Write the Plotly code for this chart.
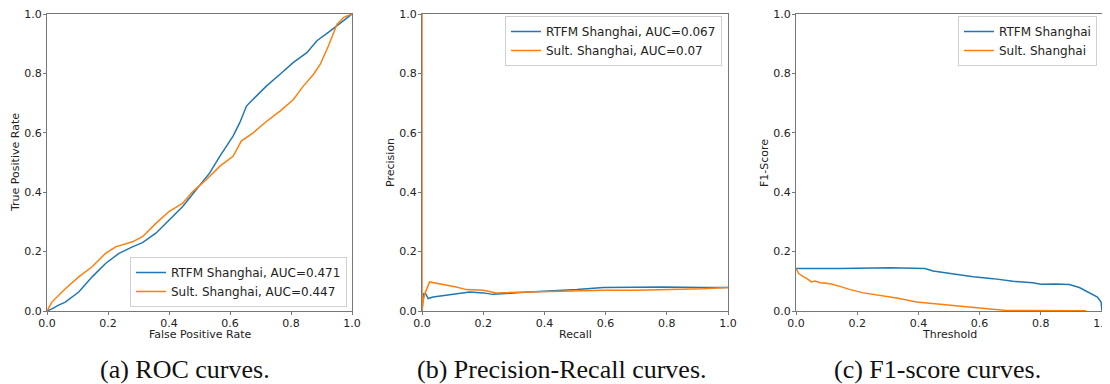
import plotly.graph_objects as go

BLUE = "#1f77b4"
ORANGE = "#ff7f0e"

# ROC curves
roc_rtfm_fpr = [0.0, 0.016, 0.038, 0.06, 0.104, 0.148, 0.192, 0.236, 0.28, 0.313, 0.357, 0.40, 0.445, 0.489, 0.533, 0.566, 0.61, 0.632, 0.654, 0.67, 0.72, 0.764, 0.808, 0.852, 0.885, 0.929, 0.962, 1.0]
roc_rtfm_tpr = [0.0, 0.007, 0.02, 0.03, 0.064, 0.115, 0.16, 0.194, 0.216, 0.23, 0.262, 0.307, 0.352, 0.408, 0.464, 0.52, 0.589, 0.634, 0.69, 0.707, 0.758, 0.797, 0.837, 0.87, 0.91, 0.943, 0.97, 1.0]
roc_sult_fpr = [0.0, 0.016, 0.06, 0.104, 0.148, 0.192, 0.225, 0.28, 0.313, 0.357, 0.40, 0.445, 0.478, 0.522, 0.566, 0.61, 0.637, 0.676, 0.72, 0.764, 0.808, 0.841, 0.874, 0.896, 0.923, 0.951, 0.973, 1.0]
roc_sult_tpr = [0.0, 0.03, 0.075, 0.115, 0.149, 0.194, 0.216, 0.233, 0.25, 0.295, 0.335, 0.363, 0.402, 0.442, 0.487, 0.521, 0.572, 0.6, 0.639, 0.673, 0.712, 0.758, 0.797, 0.831, 0.893, 0.966, 0.989, 1.0]

# Precision-Recall curves
pr_rtfm_recall = [0.0, 0.005, 0.012, 0.02, 0.036, 0.08, 0.123, 0.156, 0.2, 0.232, 0.32, 0.408, 0.506, 0.593, 0.68, 0.788, 0.918, 1.0]
pr_rtfm_prec = [0.0, 0.058, 0.058, 0.042, 0.047, 0.053, 0.061, 0.064, 0.061, 0.056, 0.062, 0.066, 0.072, 0.079, 0.081, 0.081, 0.079, 0.079]
pr_sult_recall = [0.0, 0.0, 0.003, 0.009, 0.025, 0.047, 0.08, 0.112, 0.145, 0.2, 0.243, 0.32, 0.408, 0.506, 0.593, 0.7, 0.81, 0.918, 1.0]
pr_sult_prec = [1.0, 0.0, 0.03, 0.058, 0.098, 0.094, 0.087, 0.081, 0.072, 0.07, 0.061, 0.063, 0.066, 0.07, 0.07, 0.07, 0.072, 0.075, 0.079]

# F1-score curves
f1_rtfm_thr = [0.0, 0.144, 0.307, 0.421, 0.448, 0.514, 0.579, 0.644, 0.709, 0.774, 0.8, 0.85, 0.893, 0.926, 0.958, 0.985, 0.997, 1.0]
f1_rtfm_score = [0.143, 0.143, 0.146, 0.143, 0.135, 0.126, 0.115, 0.109, 0.1, 0.095, 0.09, 0.091, 0.089, 0.079, 0.061, 0.047, 0.03, 0.0]
f1_sult_thr = [0.0, 0.009, 0.025, 0.036, 0.05, 0.063, 0.079, 0.112, 0.144, 0.177, 0.22, 0.275, 0.329, 0.394, 0.459, 0.524, 0.6, 0.687, 0.774, 0.948]
f1_sult_score = [0.143, 0.126, 0.115, 0.109, 0.098, 0.101, 0.095, 0.092, 0.083, 0.072, 0.061, 0.053, 0.044, 0.03, 0.023, 0.016, 0.01, 0.002, 0.001, 0.001]

roc_names = ["RTFM Shanghai, AUC=0.471", "Sult. Shanghai, AUC=0.447"]
pr_names = ["RTFM Shanghai, AUC=0.067", "Sult. Shanghai, AUC=0.07"]
f1_names = ["RTFM Shanghai", "Sult. Shanghai"]

x_titles = ["False Positive Rate", "Recall", "Threshold"]
y_titles = ["True Positive Rate", "Precision", "F1-Score"]
captions = ["(a) ROC curves.", "(b) Precision-Recall curves.", "(c) F1-score curves."]
tick_vals = [0.0, 0.2, 0.4, 0.6, 0.8, 1.0]

# the page body adds an 8px offset; figure is sized to fill the remaining window
OFF = 8
W, H = 1110 - OFF, 384 - OFF


def px(sx):
    return (sx - OFF) / W


def py(sy):
    return (H - (sy - OFF)) / H


x_doms = [(47, 352), (422, 728), (796, 1102)]
y_top, y_bot = 14, 311
ydom = [py(y_bot), py(y_top)]

fig = go.Figure()
panels = [
    (roc_rtfm_fpr, roc_rtfm_tpr, roc_sult_fpr, roc_sult_tpr, roc_names),
    (pr_rtfm_recall, pr_rtfm_prec, pr_sult_recall, pr_sult_prec, pr_names),
    (f1_rtfm_thr, f1_rtfm_score, f1_sult_thr, f1_sult_score, f1_names),
]
legend_ids = ["legend", "legend2", "legend3"]
axis_font = dict(family="DejaVu Sans", size=11, color="#222")

for i, (bx, by, ox, oy, names) in enumerate(panels):
    xa = "x" if i == 0 else f"x{i+1}"
    ya = "y" if i == 0 else f"y{i+1}"
    fig.add_trace(go.Scatter(x=bx, y=by, mode="lines", name=names[0],
                             line=dict(color=BLUE, width=1.5), xaxis=xa, yaxis=ya,
                             legend=legend_ids[i]))
    fig.add_trace(go.Scatter(x=ox, y=oy, mode="lines", name=names[1],
                             line=dict(color=ORANGE, width=1.5), xaxis=xa, yaxis=ya,
                             legend=legend_ids[i]))
    common = dict(range=[0, 1], showline=True, linecolor="#777", linewidth=1, mirror=True,
                  ticks="outside", ticklen=3, tickcolor="#777", tickvals=tick_vals,
                  tickformat=".1f", showgrid=False, zeroline=False, tickfont=axis_font,
                  automargin=False, ticklabelstandoff=-1, ticklabeloverflow="allow")
    xkey = "xaxis" if i == 0 else f"xaxis{i+1}"
    ykey = "yaxis" if i == 0 else f"yaxis{i+1}"
    fig.update_layout(**{
        xkey: dict(domain=[px(x_doms[i][0]), px(x_doms[i][1])], anchor=ya, **common),
        ykey: dict(domain=ydom, anchor=xa, **common),
    })
    xc = (x_doms[i][0] + x_doms[i][1]) / 2
    fig.add_annotation(x=px(xc), y=py(334), xref="paper", yref="paper",
                       text=x_titles[i], showarrow=False, font=axis_font,
                       xanchor="center", yanchor="middle")
    fig.add_annotation(x=px(x_doms[i][0] - 32), y=py(163), xref="paper", yref="paper",
                       text=y_titles[i], showarrow=False, font=axis_font, textangle=-90,
                       xanchor="center", yanchor="middle")
    fig.add_annotation(x=px([185, 562, 937][i]), y=py(369), xref="paper", yref="paper",
                       text=captions[i], showarrow=False,
                       font=dict(family="Liberation Serif", size=26, color="#111"),
                       xanchor="center", yanchor="middle")

leg_common = dict(bgcolor="white", bordercolor="#d0d0d0", borderwidth=1,
                  font=dict(family="DejaVu Sans", size=12, color="#222"),
                  tracegroupgap=0, itemwidth=30)
fig.update_layout(
    legend=dict(x=px(347), y=py(307), xanchor="right", yanchor="bottom", **leg_common),
    legend2=dict(x=px(722), y=py(16), xanchor="right", yanchor="top", **leg_common),
    legend3=dict(x=px(1097), y=py(16), xanchor="right", yanchor="top", **leg_common),
    width=W, height=H, margin=dict(l=0, r=0, t=0, b=0, autoexpand=False),
    paper_bgcolor="white", plot_bgcolor="white", showlegend=True,
)

fig.write_html("out.html")
